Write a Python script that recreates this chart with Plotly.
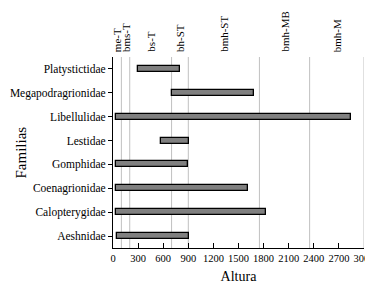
import plotly.graph_objects as go

families = ["Aeshnidae", "Calopterygidae", "Coenagrionidae", "Gomphidae",
            "Lestidae", "Libellulidae", "Megapodragrionidae", "Platystictidae"]
alt_min = [50, 40, 40, 40, 570, 40, 700, 300]
alt_max = [910, 1825, 1610, 900, 910, 2840, 1680, 805]

zone_labels = ["me-T", "bms-T", "bs-T", "bh-ST", "bmh-ST", "bmh-MB", "bmh-M"]
zone_bounds = [0, 100, 200, 700, 900, 1750, 2350, 3000]

x_ticks = list(range(0, 3001, 300))

FONT = "Liberation Serif, Times New Roman, serif"

fig = go.Figure()
fig.add_trace(go.Bar(
    y=families,
    x=[b - a for a, b in zip(alt_min, alt_max)],
    base=alt_min,
    orientation="h",
    width=0.25,
    marker=dict(color="#808080", line=dict(color="black", width=1.3)),
    showlegend=False,
))

shapes = []
for b in zone_bounds[1:]:
    shapes.append(dict(type="line", xref="x", yref="paper", x0=b, x1=b, y0=0, y1=1,
                       line=dict(color="#c0c0c0", width=1), layer="below"))

annotations = []
for i, lab in enumerate(zone_labels):
    mid = (zone_bounds[i] + zone_bounds[i + 1]) / 2
    annotations.append(dict(x=mid, y=1, xref="x", yref="paper", text=lab,
                            textangle=-90, showarrow=False, yanchor="bottom",
                            xanchor="center", yshift=3,
                            font=dict(family=FONT, size=11, color="black")))
annotations.append(dict(x=0, y=0.5, xref="paper", yref="paper", text="Familias",
                        textangle=-90, showarrow=False, xanchor="center", yanchor="middle",
                        xshift=-93,
                        font=dict(family=FONT, size=15, color="black")))

fig.update_layout(
    width=373, height=290,
    margin=dict(l=105, r=17, t=49, b=50),
    paper_bgcolor="white", plot_bgcolor="white",
    font=dict(family=FONT, color="black"),
    shapes=shapes,
    annotations=annotations,
    bargap=0,
    xaxis=dict(range=[0, 3000], tickvals=x_ticks, ticks="inside", ticklen=5,
               tickcolor="black", showgrid=False, zeroline=False, tickangle=0,
               automargin=False,
               showline=True, linecolor="black", linewidth=1,
               tickfont=dict(family=FONT, size=10.5),
               title=dict(text="Altura", font=dict(family=FONT, size=14), standoff=8)),
    yaxis=dict(categoryorder="array", categoryarray=families,
               ticks="outside", ticklen=4, tickcolor="black", automargin=False,
               showline=True, linecolor="black", linewidth=1,
               showgrid=False, zeroline=False,
               tickfont=dict(family=FONT, size=11.5)),
)

fig.write_html("out.html")
